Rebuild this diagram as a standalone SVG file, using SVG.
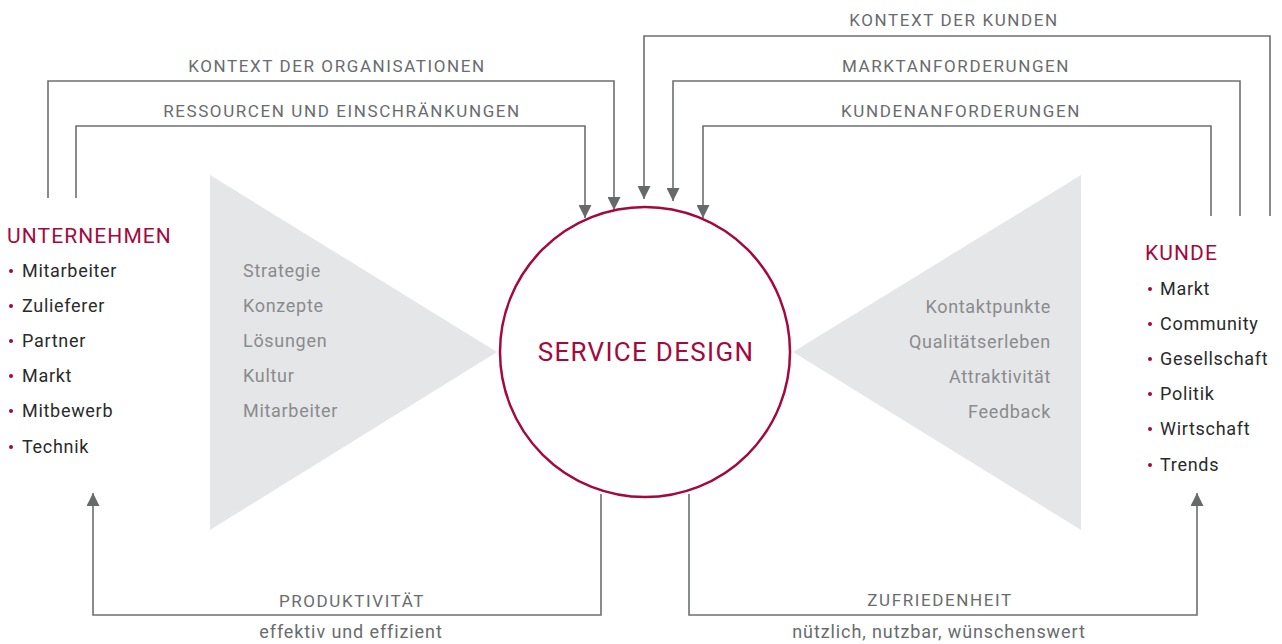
<svg xmlns="http://www.w3.org/2000/svg" width="1282" height="644" viewBox="0 0 1282 644">
<defs>
<marker id="ah" viewBox="0 0 10 10" refX="10" refY="5" markerWidth="13" markerHeight="13" markerUnits="userSpaceOnUse" orient="auto">
<path d="M0,0 L10,5 L0,10 Z" fill="#68696b"/>
</marker>
<style>
.c{fill:none;stroke:#6e6f71;stroke-width:1.6}
.lbl{font-family:Roboto,"Liberation Sans",sans-serif;font-size:17px;letter-spacing:1.6px;fill:#6a6b6d;text-anchor:middle}
.sub{font-family:Roboto,"Liberation Sans",sans-serif;font-size:18px;letter-spacing:0.9px;fill:#6a6b6d;text-anchor:middle}
.hd{font-family:Roboto,"Liberation Sans",sans-serif;font-size:21px;letter-spacing:1.1px;fill:#a3093e}
.it{font-family:Roboto,"Liberation Sans",sans-serif;font-size:18px;letter-spacing:0.7px;fill:#2a2a2a}
.bu{fill:#a3093e}
.tri{fill:#e5e6e8}
.tt{font-family:Roboto,"Liberation Sans",sans-serif;font-size:18px;letter-spacing:0.7px;fill:#8a8b8d}
</style>
</defs>
<rect width="1282" height="644" fill="#ffffff"/>

<g id="triangles">
<polygon class="tri" points="210,175 210,530 497,352"/>
<polygon class="tri" points="1081,175 1081,530 793,352"/>
</g>

<g id="connectors">
<polyline class="c" points="48,198 48,81 614,81 614,210" marker-end="url(#ah)"/>
<polyline class="c" points="76,198 76,126 585,126 585,218" marker-end="url(#ah)"/>
<polyline class="c" points="1270,216 1270,36 644,36 644,199" marker-end="url(#ah)"/>
<polyline class="c" points="1240,216 1240,81 673,81 673,201" marker-end="url(#ah)"/>
<polyline class="c" points="1211,216 1211,126 703,126 703,218" marker-end="url(#ah)"/>
<polyline class="c" points="601,494 601,615 93,615 93,493" marker-end="url(#ah)"/>
<polyline class="c" points="689,494 689,615 1197,615 1197,493" marker-end="url(#ah)"/>
</g>

<g id="connector-labels">
<text class="lbl" x="337" y="72">KONTEXT DER ORGANISATIONEN</text>
<text class="lbl" x="342" y="117">RESSOURCEN UND EINSCHRÄNKUNGEN</text>
<text class="lbl" x="954" y="26">KONTEXT DER KUNDEN</text>
<text class="lbl" x="956" y="72">MARKTANFORDERUNGEN</text>
<text class="lbl" x="961" y="117">KUNDENANFORDERUNGEN</text>
<text class="lbl" x="352" y="607">PRODUKTIVITÄT</text>
<text class="sub" x="351" y="638">effektiv und effizient</text>
<text class="lbl" x="940" y="606">ZUFRIEDENHEIT</text>
<text class="sub" x="939" y="638">nützlich, nutzbar, wünschenswert</text>
</g>

<g id="service-design">
<circle cx="645" cy="352" r="145" fill="#ffffff" stroke="#a3093e" stroke-width="2.5"/>
<text x="646" y="361" font-family="Roboto,'Liberation Sans',sans-serif" font-size="26" letter-spacing="1.3" fill="#a3093e" text-anchor="middle">SERVICE DESIGN</text>
</g>

<g id="left-triangle-text">
<text class="tt" x="243" y="277">Strategie</text>
<text class="tt" x="243" y="312">Konzepte</text>
<text class="tt" x="243" y="347">Lösungen</text>
<text class="tt" x="243" y="382">Kultur</text>
<text class="tt" x="243" y="417">Mitarbeiter</text>
</g>

<g id="right-triangle-text">
<text class="tt" x="1051" y="313" text-anchor="end">Kontaktpunkte</text>
<text class="tt" x="1051" y="348" text-anchor="end">Qualitätserleben</text>
<text class="tt" x="1051" y="383" text-anchor="end">Attraktivität</text>
<text class="tt" x="1051" y="418" text-anchor="end">Feedback</text>
</g>

<g id="unternehmen">
<text class="hd" x="7" y="243">UNTERNEHMEN</text>
<circle class="bu" cx="11" cy="271" r="2"/><text class="it" x="22" y="277">Mitarbeiter</text>
<circle class="bu" cx="11" cy="306" r="2"/><text class="it" x="22" y="312">Zulieferer</text>
<circle class="bu" cx="11" cy="341" r="2"/><text class="it" x="22" y="347">Partner</text>
<circle class="bu" cx="11" cy="376" r="2"/><text class="it" x="22" y="382">Markt</text>
<circle class="bu" cx="11" cy="411" r="2"/><text class="it" x="22" y="417">Mitbewerb</text>
<circle class="bu" cx="11" cy="447" r="2"/><text class="it" x="22" y="453">Technik</text>
</g>

<g id="kunde">
<text class="hd" x="1145" y="260">KUNDE</text>
<circle class="bu" cx="1150" cy="289" r="2"/><text class="it" x="1160" y="295">Markt</text>
<circle class="bu" cx="1150" cy="324" r="2"/><text class="it" x="1160" y="330">Community</text>
<circle class="bu" cx="1150" cy="359" r="2"/><text class="it" x="1160" y="365">Gesellschaft</text>
<circle class="bu" cx="1150" cy="394" r="2"/><text class="it" x="1160" y="400">Politik</text>
<circle class="bu" cx="1150" cy="429" r="2"/><text class="it" x="1160" y="435">Wirtschaft</text>
<circle class="bu" cx="1150" cy="465" r="2"/><text class="it" x="1160" y="471">Trends</text>
</g>
</svg>
